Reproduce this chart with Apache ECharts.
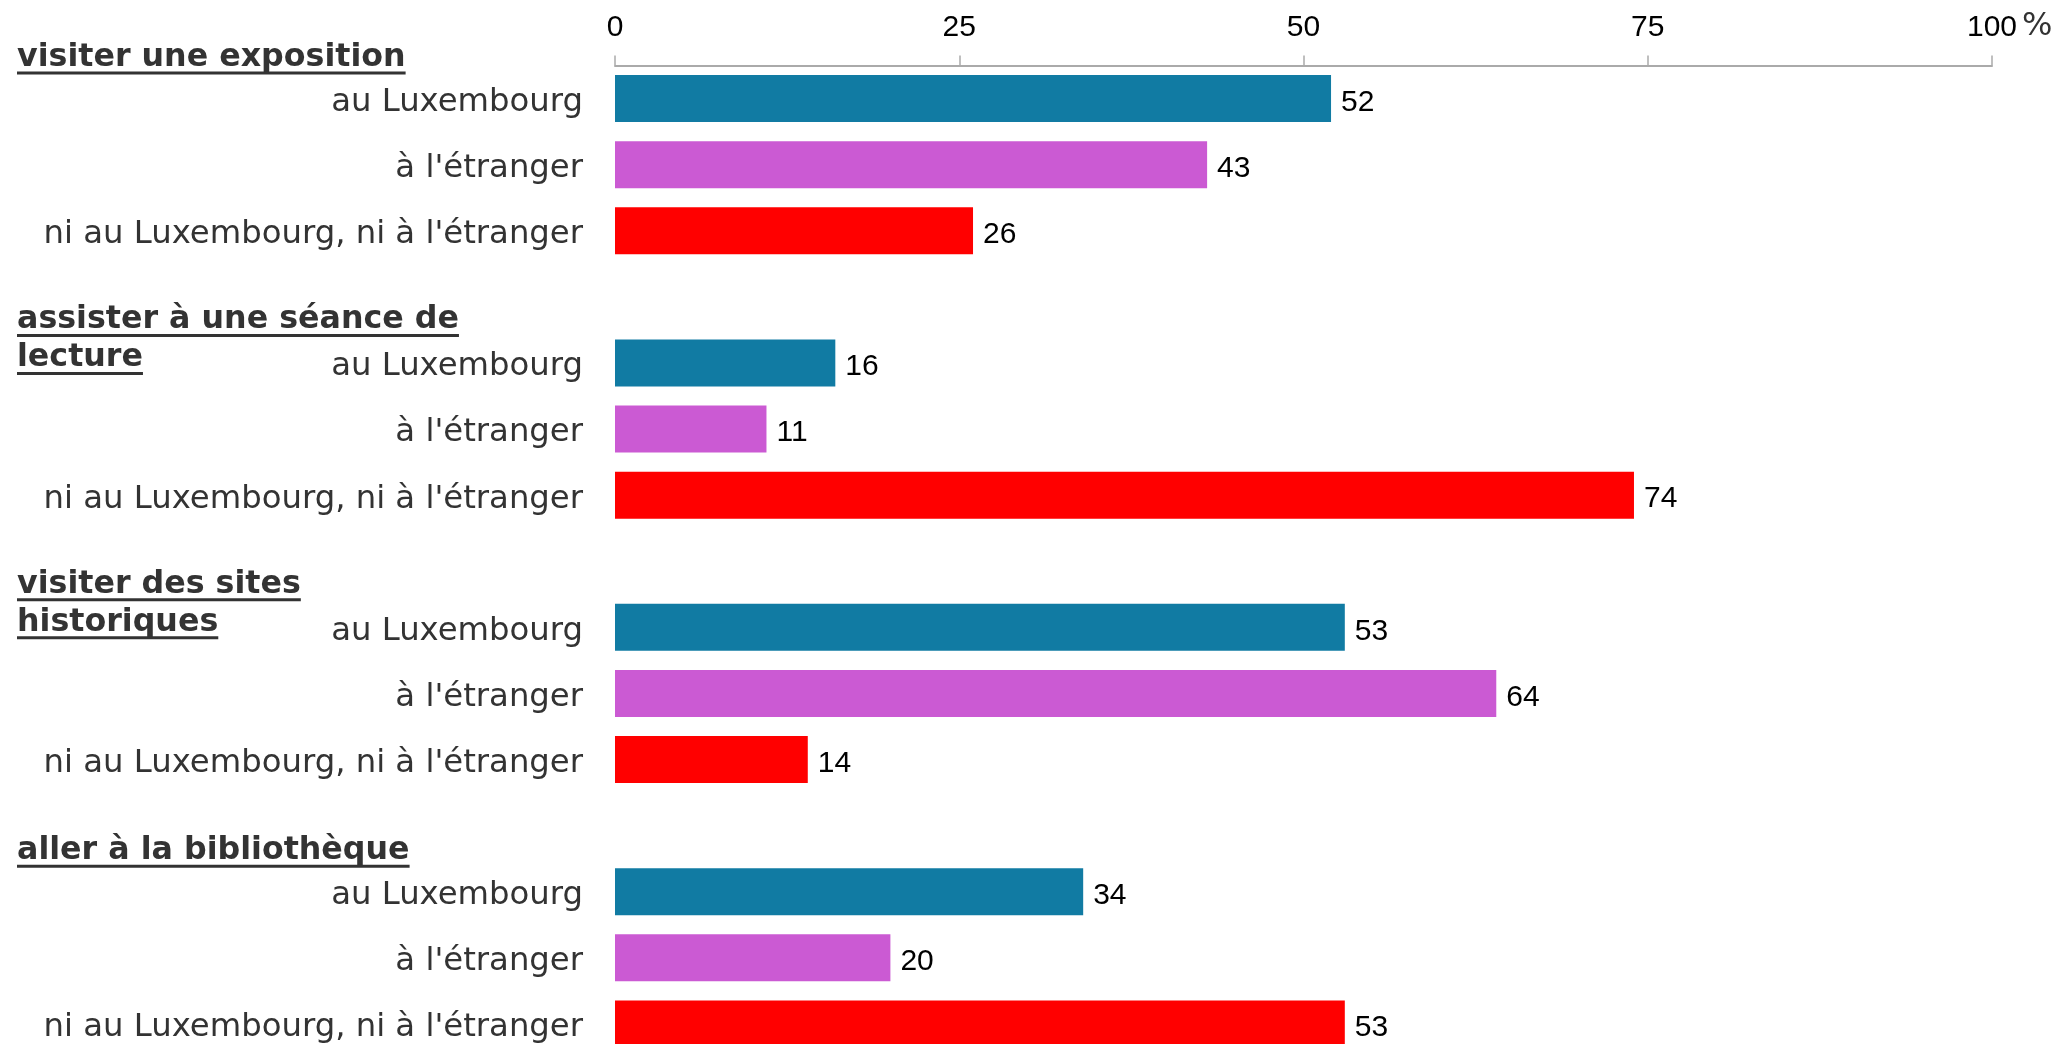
<!DOCTYPE html>
<html>
<head>
<meta charset="utf-8">
<script src="https://cdn.jsdelivr.net/npm/echarts@6/dist/echarts.min.js"></script>
<style>
html,body{margin:0;padding:0;background:#fff;}
#chart{width:2062px;height:1044px;}
</style>
</head>
<body>
<div id="chart"></div>
<script>
// ---- data ----
const groupLabels = [
  ['visiter une exposition'],
  ['assister à une séance de', 'lecture'],
  ['visiter des sites', 'historiques'],
  ['aller à la bibliothèque']
];
const subCategories = ['au Luxembourg', "à l'étranger", "ni au Luxembourg, ni à l'étranger"];
const valuesExposition = [52, 43, 26];
const valuesLecture = [16, 11, 74];
const valuesSites = [53, 64, 14];
const valuesBibliotheque = [34, 20, 53];
const tickValues = [0, 25, 50, 75, 100];
const unitLabel = '%';

// ---- styles ----
const subColors = ['#117ba3', '#cb5ad3', '#ff0000'];
const groupValues = [valuesExposition, valuesLecture, valuesSites, valuesBibliotheque];

// build category axis (blank slot between groups)
const catKeys = [], catText = [], barData = [], firstKeys = [];
groupValues.forEach((vals, g) => {
  vals.forEach((v, i) => {
    const key = 'g' + g + '_' + i;
    if (i === 0) firstKeys.push(key);
    catKeys.push(key);
    catText.push(subCategories[i]);
    barData.push({ value: v, itemStyle: { color: subColors[i] } });
  });
  if (g < groupValues.length - 1) {
    catKeys.push('blank' + g);
    catText.push('');
    barData.push('-');
  }
});

const chart = echarts.init(document.getElementById('chart'), null, { renderer: 'canvas' });
const option = {
  backgroundColor: '#ffffff',
  animation: false,
  grid: { left: 615, right: 70, top: 65.5, height: 991.5, containLabel: false, outerBoundsMode: 'none' },
  xAxis: {
    type: 'value',
    position: 'top',
    min: 0, max: 100, interval: 25,
    splitLine: { show: false },
    axisLine: { show: true, lineStyle: { color: '#aaaaaa', width: 2 } },
    axisTick: { show: true, length: 10, lineStyle: { color: '#aaaaaa', width: 1.5 } },
    axisLabel: {
      margin: 23,
      color: '#000',
      fontSize: 30,
      fontFamily: '"Liberation Sans", Arial, sans-serif'
    }
  },
  yAxis: {
    type: 'category',
    inverse: true,
    data: catKeys,
    axisLine: { show: false },
    axisTick: { show: false },
    splitLine: { show: false },
    axisLabel: {
      interval: 0,
      margin: 32,
      color: '#333333',
      fontSize: 32.3,
      fontFamily: '"DejaVu Sans", sans-serif',
      formatter: (val, idx) => catText[idx] ? '{c|' + catText[idx] + '}' : '',
      rich: {
        c: {
          color: '#333333',
          fontSize: 32.3,
          fontFamily: '"DejaVu Sans", sans-serif',
          padding: [8, 0, 0, 0]
        }
      }
    }
  },
  series: [{
    type: 'bar',
    data: barData,
    barWidth: 47,
    label: {
      show: true,
      position: 'right',
      distance: 10,
      offset: [0, 4],
      color: '#000',
      fontSize: 30,
      fontFamily: '"Liberation Sans", Arial, sans-serif'
    }
  }]
};
chart.setOption(option);

// group labels and unit label positioned from the chart's scales
const ctx = document.createElement('canvas').getContext('2d');
const grpFont = 'bold 31.7px "DejaVu Sans"';
ctx.font = grpFont;
const graphics = [];
groupLabels.forEach((lines, g) => {
  const yBar = chart.convertToPixel({ yAxisIndex: 0 }, firstKeys[g]);
  const offsets = lines.length === 1 ? [-41] : [-43, -5];
  lines.forEach((line, li) => {
    const y = yBar + offsets[li];
    const w = ctx.measureText(line).width;
    graphics.push({
      type: 'text', x: 17, y: y, silent: true,
      style: { text: line, fill: '#333333', font: grpFont, verticalAlign: 'middle', align: 'left' }
    });
    graphics.push({
      type: 'rect', silent: true,
      shape: { x: 17, y: y + 14, width: w, height: 3 },
      style: { fill: '#333333' }
    });
  });
});
const x100 = chart.convertToPixel({ xAxisIndex: 0 }, tickValues[tickValues.length - 1]);
graphics.push({
  type: 'text', silent: true, x: x100 + 30, y: 27,
  style: { text: unitLabel, fill: '#333333', font: '32px "DejaVu Sans"', verticalAlign: 'middle', align: 'left' }
});
chart.setOption({ graphic: graphics });
</script>
</body>
</html>
